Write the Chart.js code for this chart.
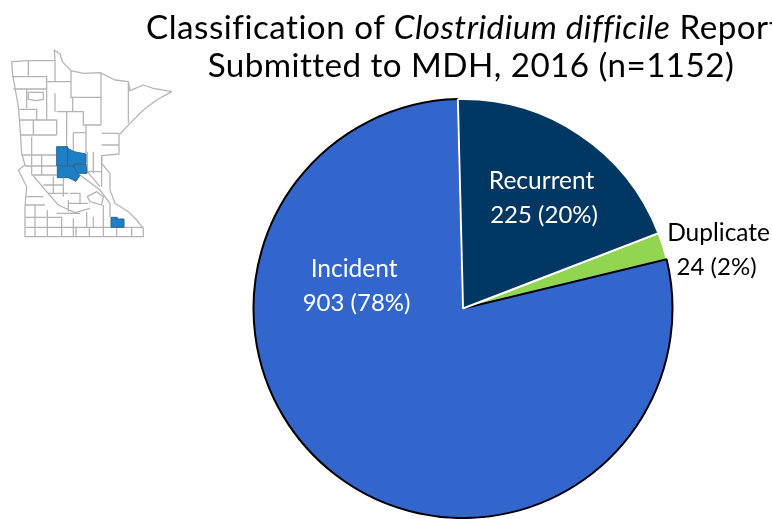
<!DOCTYPE html>
<html><head><meta charset="utf-8">
<style>
html,body{margin:0;padding:0;background:#fff;width:772px;height:519px;overflow:hidden;position:relative}
#c{position:absolute;left:0;top:0}
#map{position:absolute;left:0;top:40px;filter:blur(.35px)}
.t{position:absolute;left:0;width:942px;text-align:center;white-space:nowrap;font-family:Lato,sans-serif;font-size:33.2px;color:#000;line-height:40px}
</style>
<script src="https://cdn.jsdelivr.net/npm/chart.js@4"></script>
</head><body>
<canvas id="c" width="772" height="519"></canvas>
<div class="t" style="top:6px;letter-spacing:.5px">Classification of <i>Clostridium difficile</i> Reports</div>
<div class="t" style="top:44px;letter-spacing:.45px">Submitted to MDH, 2016 (n=1152)</div>
<svg id="map" width="180" height="210" viewBox="0 0 540 630" fill="none" stroke="#b4b4b4" stroke-width="3.8" stroke-linejoin="round">
<path d="M35 65L85 62L165 62L163 30L180 42L187 65L213 92L250 100L300 98L345 120L385 125L390 152L430 135L460 145L515 155L470 180L430 210L390 250L357 285L357 342L305 347L305 370L330 400L330 450L345 490L385 515L410 540L430 565L430 590L75 590L75 500L80 440L55 390L75 375L65 340L60 260L55 200L38 105Z"/>
<path d="M85 62V107M35 110H140V150M40 147H140M165 62V125H140M165 125H213M213 92V175M303 98V255M213 172H303M218 172V215M385 125V250M80 147V205M85 157H130V178L110 182L85 178ZM58 208H110V240M140 150V240M140 240H170M165 160V215M60 240H170V285M100 240V285M60 285H170M170 215H200V320M200 215H250V255H258V340M258 255H303M220 278H258M220 278V335M305 280H357M305 315H357"/>
<path d="M65 345H170M95 290V405M125 345V405M75 378H170M95 405H170M100 408L140 455L175 495L225 518L270 505M160 410V460M130 435H190M190 415V470M145 460H205M205 480V515M210 460H240V490H205M240 405L300 450L330 490M262 335V395H305M280 335V400M305 345V440M262 395L300 440M262 470L290 455L310 470L305 495L270 485ZM240 490H265M80 470H130M75 495H135M105 495V562M142 510V562M170 520H240M185 530V590M220 535V590M260 515V562M280 530V562M310 495V590M75 532H185M75 562H430M105 562V590M142 562V590M228 562V590M268 562V590M350 562V590M395 562V590M330 490V532"/>
<g fill="#1f7fc4" stroke="#2a6590" stroke-width="3">
<path d="M170 320H203V378H170Z"/>
<path d="M203 325L222 335L258 342V370H222V378H203Z"/>
<path d="M222 372H258L261 400H234L222 380Z"/>
<path d="M172 380H222L234 402L240 406L228 424L205 413H172Z"/>
<path d="M333 532H352V537H372V562H333Z"/>
</g>
</svg>
<script>
// Drawing order decides which border wins on a shared edge, so Incident is drawn after Duplicate and before Recurrent.
const categories = ["Duplicate", "Incident", "Recurrent"];
const counts = [24, 903, 225];
const percents = [2, 78, 20];
const sliceColors = ["#92d550", "#3366cc", "#003763"];
const sliceBorders = ["#ffffff", "#000000", "#ffffff"];
const labelColors = ["#000000", "#ffffff", "#ffffff"];
// label centre relative to pie centre, as a fraction of the radius
const labelOffsetX = [1.22, -0.52, 0.375];
const labelOffsetY = [-0.28, -0.105, -0.525];
// second line sits slightly apart from the first, as in the reference
const secondLineShift = [-2, 2.5, 2.5];

const pieLabels = {
  id: "pieLabels",
  afterDatasetsDraw(chart) {
    const ctx = chart.ctx;
    const arcs = chart.getDatasetMeta(0).data;
    ctx.save();
    ctx.textAlign = "center";
    ctx.textBaseline = "middle";
    arcs.forEach((arc, i) => {
      const x = arc.x + labelOffsetX[i] * arc.outerRadius;
      const y = arc.y + labelOffsetY[i] * arc.outerRadius;
      ctx.fillStyle = labelColors[i];
      ctx.font = "24.5px Lato, sans-serif";
      ctx.fillText(categories[i], x, y - 17);
      ctx.font = "24px Lato, sans-serif";
      ctx.fillText(counts[i] + " (" + percents[i] + "%)", x + secondLineShift[i], y + 17);
    });
    ctx.restore();
  }
};

new Chart(document.getElementById("c"), {
  type: "pie",
  data: {
    labels: categories,
    datasets: [{
      data: counts,
      backgroundColor: sliceColors,
      borderColor: sliceBorders,
      borderWidth: 2
    }]
  },
  options: {
    responsive: false,
    animation: false,
    rotation: 68.9,
    layout: { padding: { left: 252, right: 98, top: 98, bottom: -1 } },
    plugins: { legend: { display: false }, title: { display: false }, tooltip: { enabled: false } }
  },
  plugins: [pieLabels]
});
</script>
</body></html>
